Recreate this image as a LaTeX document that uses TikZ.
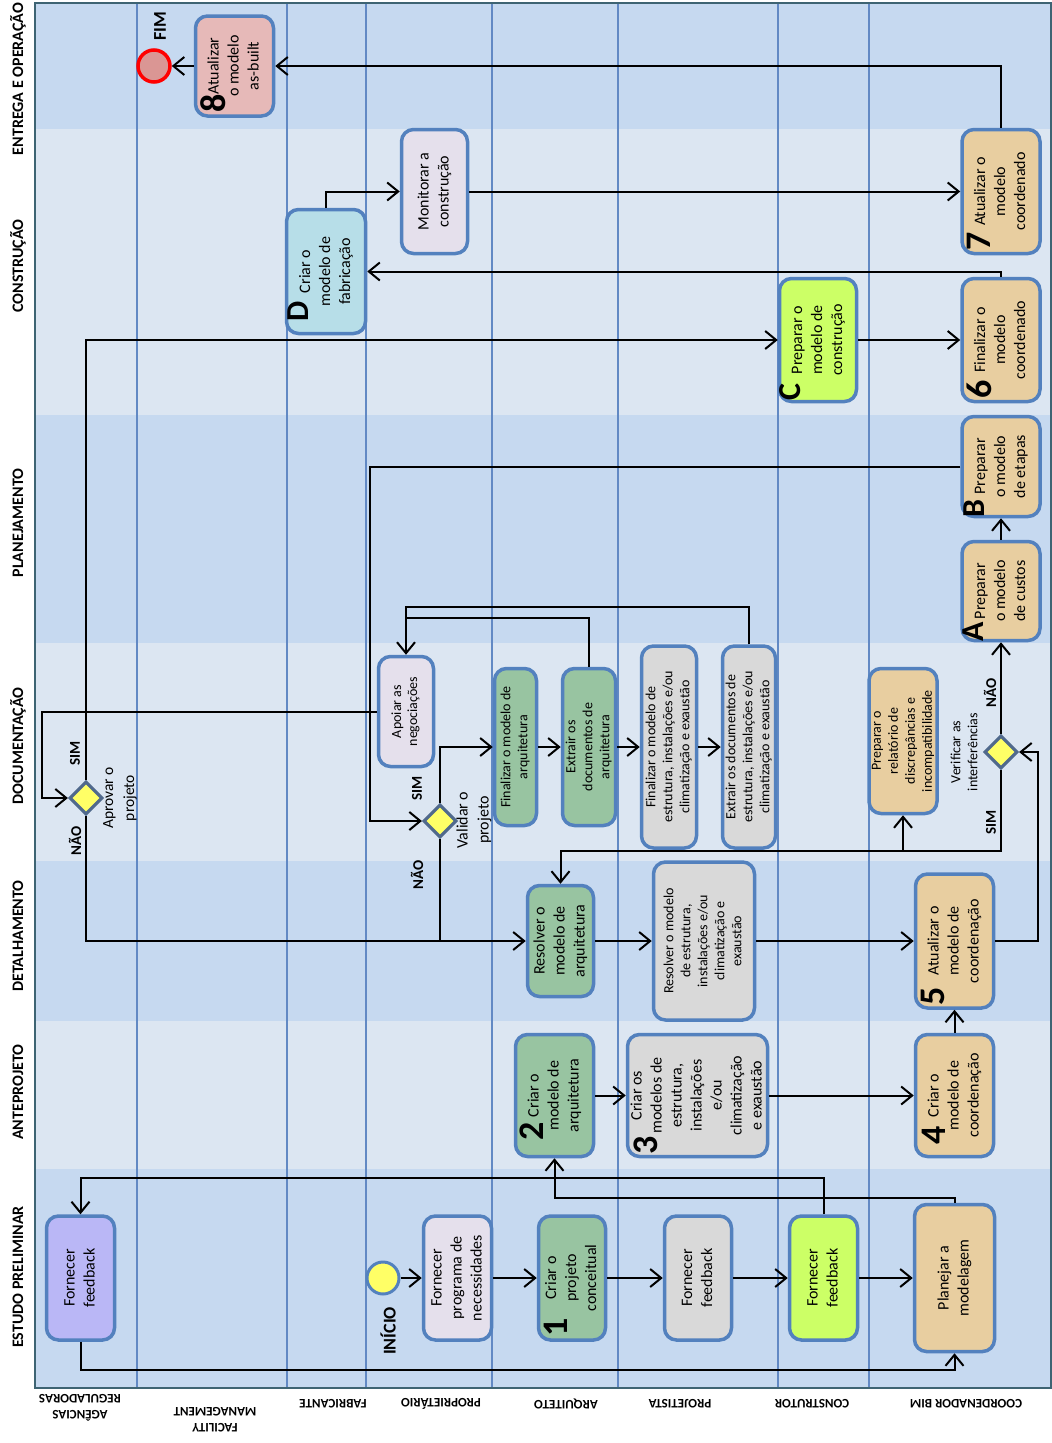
\documentclass[tikz,border=0pt]{standalone}
\usepackage{fontspec}
\setmainfont{Carlito}
\usepackage{graphicx}
\usetikzlibrary{calc, arrows.meta, shapes.geometric}

\definecolor{banddark}{RGB}{198,217,240}
\definecolor{bandlight}{RGB}{220,230,242}
\definecolor{laneblue}{RGB}{98,137,196}
\definecolor{frameteal}{RGB}{62,100,115}
\definecolor{boxline}{RGB}{83,129,190}
\definecolor{gateline}{RGB}{80,105,140}
\definecolor{archgreen}{RGB}{152,196,161}
\definecolor{projgray}{RGB}{217,217,217}
\definecolor{ownerlilac}{RGB}{229,224,236}
\definecolor{buildlime}{RGB}{204,255,102}
\definecolor{bimtan}{RGB}{232,206,160}
\definecolor{agencyviolet}{RGB}{186,183,246}
\definecolor{fabblue}{RGB}{183,222,232}
\definecolor{fmpink}{RGB}{230,185,184}
\definecolor{startyellow}{RGB}{255,255,102}
\definecolor{endrose}{RGB}{218,150,148}

\newcommand{\sidetext}[1]{\rotatebox{90}{\begin{tabular}{@{}c@{}}#1\end{tabular}}}

\tikzset{
    task/.style={draw=boxline, line width=3.5pt, rounded corners=12pt,
        inner sep=0pt, font=\fontsize{16}{20}\selectfont},
    smalltask/.style={task, font=\fontsize{14}{17}\selectfont},
    dims/.style 2 args={minimum width=#1pt, minimum height=#2pt},
    gate/.style={diamond, draw=gateline, fill=startyellow, line width=3.2pt,
        minimum size=33pt, inner sep=0pt},
    event/.style={circle, line width=3pt, minimum size=32pt, inner sep=0pt},
    flow/.style={line width=2pt, -{Straight Barb[length=11pt, width=18pt]}},
    link/.style={line width=2pt},
    swim/.style={draw=laneblue, line width=1.4pt},
    tag/.style={rotate=90, inner sep=0pt, font=\fontsize{36}{36}\bfseries},
    answer/.style={rotate=90, inner sep=0pt, font=\fontsize{15}{15}\bfseries},
    gatelabel/.style={rotate=90, align=center, inner sep=0pt,
        font=\fontsize{16}{21}\selectfont},
    phase/.style={rotate=90, inner sep=0pt, font=\fontsize{16}{16}\bfseries},
    lanelabel/.style={rotate=180, align=center, inner sep=0pt,
        font=\fontsize{13}{16}\bfseries},
}

\begin{document}
\begin{tikzpicture}[x=1pt, y=-1pt]
    \useasboundingbox (0,0) rectangle (1052,1443);

    % fases
    \fill[banddark]  (35,3)    rectangle (1051,129);
    \fill[bandlight] (35,129)  rectangle (1051,415);
    \fill[banddark]  (35,415)  rectangle (1051,643);
    \fill[bandlight] (35,643)  rectangle (1051,861);
    \fill[banddark]  (35,861)  rectangle (1051,1021);
    \fill[bandlight] (35,1021) rectangle (1051,1169);
    \fill[banddark]  (35,1169) rectangle (1051,1388);

    % raias
    \draw[swim] (137,3) -- (137,1388);
    \draw[swim] (287,3) -- (287,1388);
    \draw[swim] (366,3) -- (366,1388);
    \draw[swim] (492,3) -- (492,1388);
    \draw[swim] (618,3) -- (618,1388);
    \draw[swim] (778,3) -- (778,1388);
    \draw[swim] (869,3) -- (869,1388);
    \draw[frameteal, line width=2.5pt] (35,3) rectangle (1051,1388);

    \node[phase] at (18,79) {ENTREGA E OPERAÇÃO};
    \node[phase] at (18,266) {CONSTRUÇÃO};
    \node[phase] at (18,523) {PLANEJAMENTO};
    \node[phase] at (18,746) {DOCUMENTAÇÃO};
    \node[phase] at (18,936) {DETALHAMENTO};
    \node[phase] at (18,1092) {ANTEPROJETO};
    \node[phase] at (18,1277) {ESTUDO PRELIMINAR};

    \node[lanelabel] at (80,1408) {AGÊNCIAS\\REGULADORAS};
    \node[lanelabel] at (215,1420) {FACILITY\\MANAGEMENT};
    \node[lanelabel] at (333,1404) {FABRICANTE};
    \node[lanelabel] at (441,1404) {PROPRIETÁRIO};
    \node[lanelabel] at (566,1404) {ARQUITETO};
    \node[lanelabel] at (680,1404) {PROJETISTA};
    \node[lanelabel] at (812,1404) {CONSTRUTOR};
    \node[lanelabel] at (966,1404) {COORDENADOR BIM};

    % estudo preliminar
    \node[event, draw=boxline, fill=startyellow] (inicio) at (383,1278) {};
    \node[answer, font=\fontsize{18}{18}\bfseries] at (388,1331) {INÍCIO};
    \node[task, fill=agencyviolet, dims={68}{124}] (agfb) at (80.5,1278)
        {\sidetext{Fornecer\\feedback}};
    \node[task, fill=ownerlilac, dims={68}{124}] (prog) at (457.5,1278)
        {\sidetext{Fornecer\\programa de\\necessidades}};
    \node[task, fill=archgreen, dims={67}{124}] (concept) at (572,1278)
        {\sidetext{Criar o\\projeto\\conceitual}};
    \node[tag] at ($(concept.south west)+(19,-14)$) {1};
    \node[task, fill=projgray, dims={67}{124}] (projfb) at (698,1278)
        {\sidetext{Fornecer\\feedback}};
    \node[task, fill=buildlime, dims={68}{124}] (consfb) at (823.5,1278)
        {\sidetext{Fornecer\\feedback}};
    \node[task, fill=bimtan, dims={80}{147}] (plan) at (954.5,1278)
        {\sidetext{Planejar a\\modelagem}};

    % anteprojeto
    \node[task, fill=archgreen, dims={78}{122}] (archmod) at (554.5,1095.5)
        {\sidetext{Criar o\\modelo de\\arquitetura}};
    \node[tag] at ($(archmod.south west)+(18,-27)$) {2};
    \node[task, fill=projgray, dims={136}{122}] (engmod) at (697.5,1095.5)
        {\sidetext{Criar os\\modelos de\\estrutura,\\instalações\\e/ou\\climatização\\e exaustão}};
    \node[tag] at ($(engmod.south west)+(20,-13)$) {3};
    \node[task, fill=bimtan, dims={78}{122}] (coordmod) at (954.5,1095.5)
        {\sidetext{Criar o\\modelo de\\coordenação}};
    \node[tag] at ($(coordmod.south west)+(20,-23)$) {4};

    % detalhamento
    \node[task, fill=archgreen, dims={66}{111}] (archfix) at (560.5,941)
        {\sidetext{Resolver o\\modelo de\\arquitetura}};
    \node[smalltask, fill=projgray, dims={101}{158}] (engfix) at (704,941)
        {\sidetext{Resolver o modelo\\de estrutura,\\instalações e/ou\\climatização e\\exaustão}};
    \node[task, fill=bimtan, dims={78}{134}] (coordupd) at (954.5,941)
        {\sidetext{Atualizar o\\modelo de\\coordenação}};
    \node[tag] at ($(coordupd.south west)+(19,-13)$) {5};

    % documentacao
    \node[smalltask, font=\fontsize{14}{16}\selectfont, fill=ownerlilac,
        dims={55}{110}] (support) at (406,711.5)
        {\sidetext{Apoiar as\\negociações}};
    \node[smalltask, fill=archgreen, dims={42}{157}] (archend) at (515.5,747)
        {\sidetext{Finalizar o modelo de\\arquitetura}};
    \node[smalltask, fill=archgreen, dims={53}{157}] (archdoc) at (589,747)
        {\sidetext{Extrair os\\documentos de\\arquitetura}};
    \node[smalltask, fill=projgray, dims={55}{202}] (engend) at (669,747)
        {\sidetext{Finalizar o modelo de\\estrutura, instalações e/ou\\climatização e exaustão}};
    \node[smalltask, fill=projgray, dims={53}{202}] (engdoc) at (749,747)
        {\sidetext{Extrair os documentos de\\estrutura, instalações e/ou\\climatização e exaustão}};
    \node[smalltask, fill=bimtan, dims={67}{145}] (report) at (903,741)
        {\sidetext{Preparar o\\relatório de\\discrepâncias e\\incompatibilidade}};

    \node[gate] (approve) at (86,798) {};
    \node[gatelabel, font=\fontsize{15.5}{21}\selectfont] at (120,798) {Aprovar o\\projeto};
    \node[answer] at (75,753) {SIM};
    \node[answer] at (75,841) {NÃO};

    \node[gate] (validate) at (440,821) {};
    \node[gatelabel] at (474,820) {Validar o\\projeto};
    \node[answer] at (417,788) {SIM};
    \node[answer] at (417,875) {NÃO};

    \node[gate] (clash) at (1001,752) {};
    \node[gatelabel, font=\fontsize{14}{17}\selectfont] at (964,752)
        {Verificar as\\interferências};
    \node[answer] at (991,822) {SIM};
    \node[answer] at (990,693) {NÃO};

    % planejamento
    \node[task, fill=bimtan, dims={78}{99}] (costs) at (1001,591)
        {\sidetext{Preparar\\o modelo\\de custos}};
    \node[tag, font=\fontsize{32}{32}\bfseries] at ($(costs.south west)+(13,-10)$) {A};
    \node[task, fill=bimtan, dims={78}{100}] (stages) at (1001,466.5)
        {\sidetext{Preparar\\o modelo\\de etapas}};
    \node[tag, font=\fontsize{32}{32}\bfseries] at ($(stages.south west)+(14,-10)$) {B};

    % construcao
    \node[task, fill=buildlime, dims={77}{123}] (buildmod) at (818,340)
        {\sidetext{Preparar o\\modelo de\\construção}};
    \node[tag, font=\fontsize{32}{32}\bfseries] at ($(buildmod.south west)+(12,-11)$) {C};
    \node[task, fill=bimtan, dims={78}{123}] (coordend) at (1001,340)
        {\sidetext{Finalizar o\\modelo\\coordenado}};
    \node[tag] at ($(coordend.south west)+(19,-14)$) {6};
    \node[task, fill=fabblue, dims={79}{124}] (fabmod) at (326,271.5)
        {\sidetext{Criar o\\modelo de\\fabricação}};
    \node[tag, font=\fontsize{32}{32}\bfseries] at ($(fabmod.south west)+(13,-24)$) {D};
    \node[task, fill=ownerlilac, dims={66}{124}] (monitor) at (434.5,191.5)
        {\sidetext{Monitorar a\\construção}};
    \node[task, fill=bimtan, dims={78}{124}] (coordupd2) at (1001,191.5)
        {\sidetext{Atualizar o\\modelo\\coordenado}};
    \node[tag] at ($(coordupd2.south west)+(19,-14)$) {7};

    % entrega e operacao
    \node[task, fill=fmpink, dims={78}{100}] (asbuilt) at (234.5,66)
        {\sidetext{Atualizar\\o modelo\\as-built}};
    \node[tag] at ($(asbuilt.south west)+(19,-14)$) {8};
    \node[event, draw=red, line width=3.5pt, fill=endrose] (fim) at (154,66) {};
    \node[answer, font=\fontsize{18}{18}\bfseries] at (160,26) {FIM};

    % fluxos
    \draw[flow] (inicio) -- (prog);
    \draw[flow] (prog) -- (concept);
    \draw[flow] (concept) -- (projfb);
    \draw[flow] (projfb) -- (consfb);
    \draw[flow] (consfb) -- (plan);
    \draw[flow] (agfb.south) -- ++(0,28) -| (plan.south);
    \draw[flow] (consfb.north) -- ++(0,-36) -| (agfb.north);
    \draw[flow] (plan.north) -- ++(0,-5) -| (archmod.south);

    \draw[flow] (archmod) -- (engmod);
    \draw[flow] (engmod) -- (coordmod);
    \draw[flow] (coordmod) -- (coordupd);

    \draw[flow] (archfix) -- (engfix);
    \draw[flow] (engfix) -- (coordupd);
    \draw[flow] (coordupd.east) -- ++(43,0) |- (clash.east);
    \draw[flow] (clash.north) -- (costs.south);
    \draw[flow] (clash.south) -- ++(0,81) -| (report.south);
    \draw[flow] (clash.south) -- ++(0,81) -| (archfix.north);

    \draw[flow] (costs) -- (stages);
    \draw[flow] (stages.west) -- (stages.west -| 370,0) |- (validate.west);
    \draw[flow] (validate.north) |- (archend.west);
    \draw[link] (validate.south) -- (validate.south |- archfix.west);
    \draw[flow] (approve.south) |- (archfix.west);
    \draw[flow] (approve.north) |- (buildmod.west);
    \draw[flow] (support.west) -- (support.west -| 42,0) |- (approve.west);

    \draw[flow] (archend) -- (archdoc);
    \draw[flow] (archdoc) -- (engend);
    \draw[flow] (engend) -- (engdoc);
    \draw[flow] (engdoc.north) -- ++(0,-37) -| (support.north);
    \draw[link] (archdoc.north) -- ++(0,-49) -| (406,630);

    \draw[flow] (buildmod) -- (coordend);
    \draw[flow] (coordend.north) |- (fabmod.east);
    \draw[flow] (fabmod.north) |- (monitor.west);
    \draw[flow] (monitor) -- (coordupd2);
    \draw[flow] (coordupd2.north) |- (asbuilt.east);
    \draw[flow] (asbuilt) -- (fim);
\end{tikzpicture}
\end{document}
